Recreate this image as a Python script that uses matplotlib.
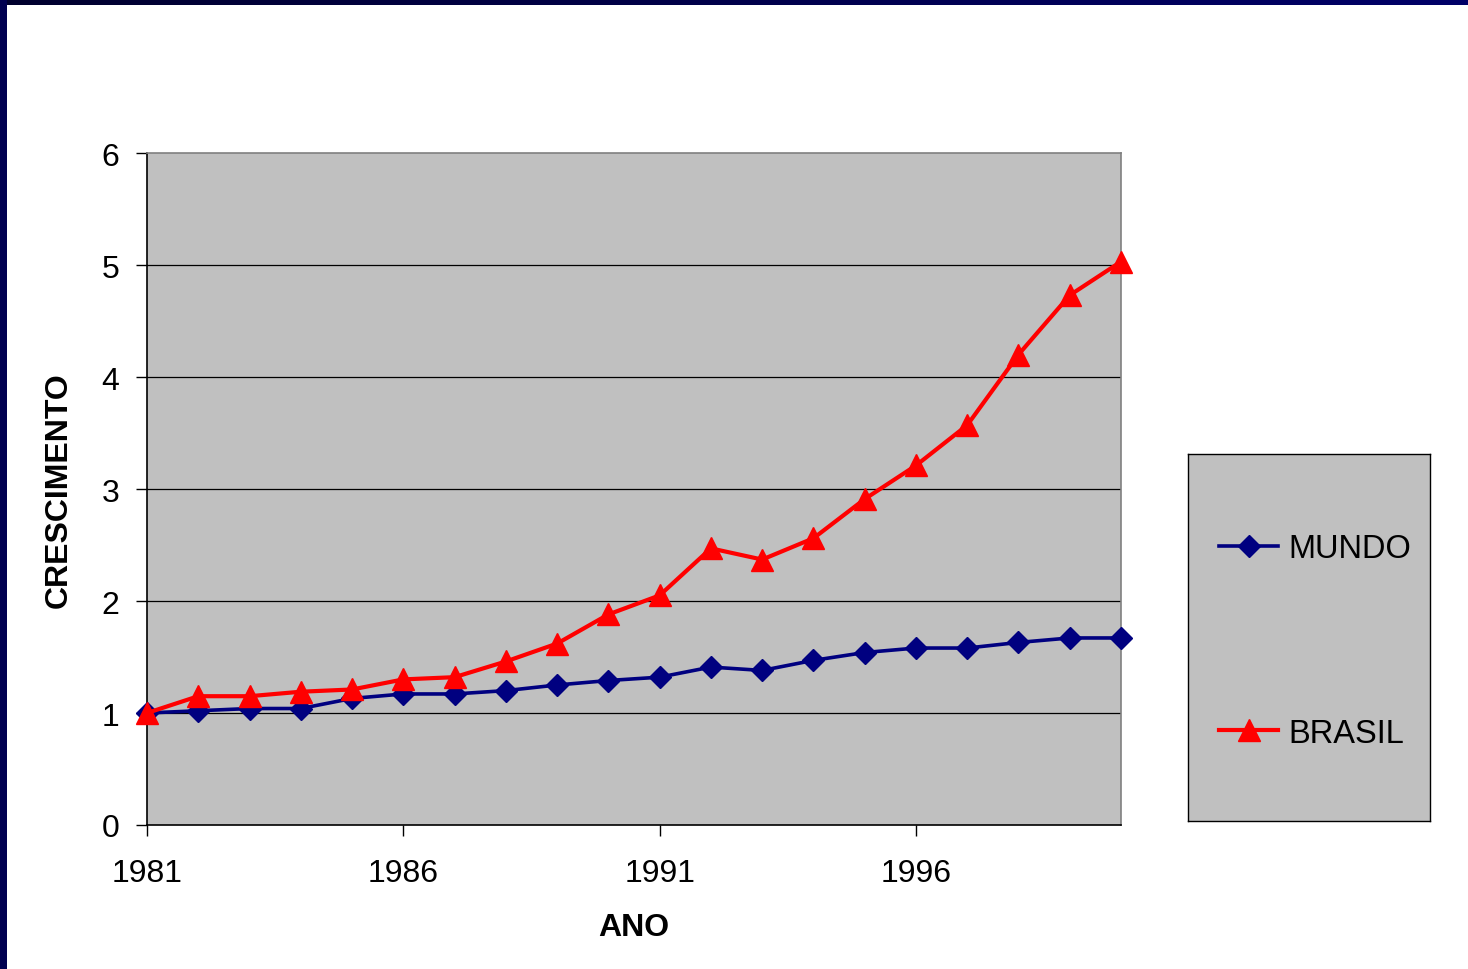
import numpy as np
import matplotlib
matplotlib.use("Agg")
import matplotlib.pyplot as plt
from matplotlib.lines import Line2D
from matplotlib.colors import LinearSegmentedColormap

plt.rcParams['font.family'] = ['Liberation Sans', 'DejaVu Sans']

# Growth index (1981 = 1)
years = list(range(1981, 2001))
mundo = [1.00, 1.02, 1.04, 1.04, 1.13, 1.17, 1.17, 1.20, 1.25, 1.29,
         1.32, 1.41, 1.38, 1.47, 1.54, 1.58, 1.58, 1.63, 1.67, 1.67]
brasil = [1.00, 1.15, 1.15, 1.19, 1.21, 1.30, 1.32, 1.46, 1.62, 1.88,
          2.05, 2.47, 2.37, 2.56, 2.91, 3.21, 3.57, 4.20, 4.73, 5.03]
xtick_years = [1981, 1986, 1991, 1996]
yticks = [0, 1, 2, 3, 4, 5, 6]

NAVY = '#000080'
RED = '#FF0000'
PLOT_BG = '#C0C0C0'

fig = plt.figure(figsize=(14.68, 9.70), dpi=100)
fig.patch.set_facecolor('white')

# Slide frame: dark blue bars along top and left edge
top_bar = fig.add_axes([0, 1 - 6 / 970, 1, 6 / 970])
grad = np.linspace(0, 1, 256).reshape(1, -1)
frame_cmap = LinearSegmentedColormap.from_list('frame', ['#00002e', '#000068'])
top_bar.imshow(grad, aspect='auto', cmap=frame_cmap, extent=[0, 1, 0, 1])
top_bar.axis('off')
left_bar = fig.add_axes([0, 0, 7 / 1468, 1])
left_bar.set_facecolor('#000050')
left_bar.set_xticks([])
left_bar.set_yticks([])
for s in left_bar.spines.values():
    s.set_visible(False)

# Main plot
ax = fig.add_axes([147 / 1468, 144 / 970, 974 / 1468, 672 / 970])
ax.set_facecolor(PLOT_BG)
ax.plot(years, mundo, color=NAVY, lw=2.6, marker='D', ms=11.5,
        markeredgecolor=NAVY, markerfacecolor=NAVY, zorder=3, clip_on=False)
ax.plot(years, brasil, color=RED, lw=3.0, marker='^', ms=16,
        markeredgecolor=RED, markerfacecolor=RED, zorder=4, clip_on=False)

ax.set_xlim(1981, 2000)
ax.set_ylim(0, 6)
ax.set_xticks(xtick_years)
ax.set_xticklabels([str(y) for y in xtick_years])
ax.set_yticks(yticks)
ax.set_yticklabels([str(v) for v in yticks])
ax.tick_params(axis='both', direction='out', length=8, width=1, color='black',
               labelsize=23, labelcolor='black')
ax.tick_params(axis='y', pad=12)
ax.tick_params(axis='x', pad=16)

for v in yticks[1:-1]:
    ax.axhline(v, color='black', lw=0.9, zorder=1)

ax.spines['left'].set_color('black')
ax.spines['bottom'].set_color('black')
ax.spines['top'].set_color('#808080')
ax.spines['right'].set_color('#808080')
for s in ax.spines.values():
    s.set_linewidth(1.2)

ax.set_xlabel('ANO', fontsize=23, fontweight='bold', labelpad=17)
ax.set_ylabel('CRESCIMENTO', fontsize=23, fontweight='bold', labelpad=20)

# Legend panel
lax = fig.add_axes([1188 / 1468, 148 / 970, 242 / 1468, 367 / 970])
lax.set_facecolor(PLOT_BG)
lax.set_xticks([])
lax.set_yticks([])
for s in lax.spines.values():
    s.set_color('black')
    s.set_linewidth(1)
handles = [
    Line2D([], [], color=NAVY, lw=2.6, marker='D', ms=11.5,
           markerfacecolor=NAVY, markeredgecolor=NAVY),
    Line2D([], [], color=RED, lw=3.0, marker='^', ms=16,
           markerfacecolor=RED, markeredgecolor=RED),
]
lax.legend(handles, ['MUNDO', 'BRASIL'], loc='center',
           bbox_to_anchor=(0.525, 0.49), frameon=False,
           fontsize=23.5, labelspacing=4.7, handlelength=1.8,
           handletextpad=0.3, borderaxespad=0)

fig.savefig('out.png', dpi=100)
